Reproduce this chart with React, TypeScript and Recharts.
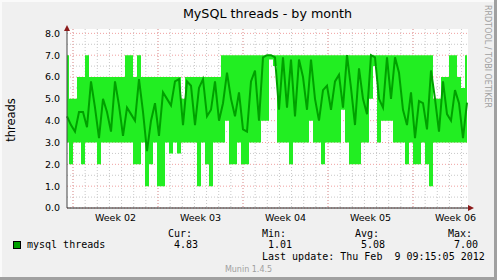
import { ComposedChart, Area, Line, XAxis, YAxis, CartesianGrid } from "recharts";

// Munin "MySQL threads - by month": faixa min/max (verde claro) e media (verde escuro).
// Uma amostra a cada ~8h.
const AVG = [
  4.2, 3.8, 3.5, 4.4, 4.4, 3.7, 5.8, 4.6, 3.2, 5.0,
  4.4, 3.5, 5.8, 4.7, 3.3, 4.6, 4.3, 4.0, 5.9, 4.4,
  2.6, 4.0, 4.8, 3.3, 5.3, 5.0, 4.7, 5.8, 5.9, 3.8,
  5.8, 5.6, 3.8, 5.5, 5.9, 4.2, 4.5, 5.8, 4.0, 4.8,
  6.2, 5.0, 4.2, 5.3, 3.6, 3.5, 5.8, 6.3, 4.0, 6.9,
  7.0, 7.0, 6.9, 4.5, 6.9, 4.6, 6.8, 4.2, 6.8, 6.0,
  4.5, 6.8, 5.0, 4.0, 5.4, 5.6, 4.5, 5.8, 6.1, 4.6,
  7.0, 5.5, 3.8, 6.4, 5.0, 4.3, 7.0, 6.9, 5.0, 4.6,
  6.9, 5.0, 6.9, 6.2, 4.5, 3.8, 5.3, 3.2, 4.9, 4.8,
  3.6, 6.3, 5.0, 3.5, 5.8, 4.3, 4.0, 5.4, 4.8, 3.2,
  4.83,
];
const MIN = [
  3, 2, 3, 3, 2, 3, 3, 3, 2, 3,
  3, 3, 3, 3, 3, 3, 3, 2, 2, 3,
  1, 2, 3, 1, 1, 3, 2.5, 3, 2.5, 3,
  3, 3, 3, 1, 3, 2, 1, 3, 3, 3,
  4, 2, 2, 3, 2, 2, 3, 3, 3, 4,
  4, 6.8, 6.5, 3, 3, 3, 2, 3, 3, 3,
  3, 4, 3, 3, 2, 3, 3, 3, 3, 4.5,
  3, 2, 2, 2, 3, 3, 5, 6.5, 3, 4,
  4, 4, 3, 3, 3, 2, 3, 2, 2, 3,
  2, 1, 3, 3, 3, 3, 3, 3, 3, 3,
  3,
];
const MAX = [
  7, 5, 5, 6, 6, 7, 6, 6, 6, 6,
  6, 6, 6, 6, 6, 7, 7, 6, 7, 6,
  6, 6, 6, 6, 6, 6, 6, 6, 6, 5,
  6, 6, 6, 6, 6, 6, 6, 6, 6, 7,
  7, 7, 7, 7, 7, 7, 7, 7, 7, 7,
  7, 7, 7, 7, 7, 7, 7, 7, 7, 7,
  7, 7, 7, 7, 7, 7, 7, 7, 7, 7,
  7, 7, 7, 7, 7, 7, 7, 7, 7, 7,
  7, 7, 7, 7, 7, 7, 7, 7, 7, 7,
  7, 7, 5, 5, 6, 6, 7, 7, 6, 5.5,
  7,
];

const WEEK_LABELS = ["Week 02", "Week 03", "Week 04", "Week 05", "Week 06"];
const WEEK_STARTS = [1.5, 22.75, 44, 65.25, 86.5];
const WEEK_CENTERS = [12.125, 33.375, 54.625, 75.875, 97.125];
const DAY_TICKS = Array.from({ length: 33 }, (_, k) => 1.5 + (k * 21.25) / 7);
const Y_TICKS = [0, 1, 2, 3, 4, 5, 6, 7, 8];
const HALF_TICKS = [0.5, 1.5, 2.5, 3.5, 4.5, 5.5, 6.5, 7.5];
const X_DOMAIN: [number, number] = [0, 100.25];
const Y_DOMAIN: [number, number] = [0, 8.2];

const STAT_LABELS = ["Cur:", "Min:", "Avg:", "Max:"];
const STAT_VALUES = ["4.83", "1.01", "5.08", "7.00"];

const SANS = "DejaVu Sans";
const MONO = "DejaVu Sans Mono";

const rows = AVG.map((a, i) => ({ t: i, avg: a, band: [MIN[i], MAX[i]] }));

function YTick({ x, y, payload }: any) {
  return (
    <text x={x} y={y} dy={3.4} textAnchor="end" fontSize={9.5} fontFamily={SANS} fill="#000">
      {Number(payload.value).toFixed(1)}
    </text>
  );
}

function XTick({ x, y, payload }: any) {
  const i = WEEK_CENTERS.indexOf(payload.value);
  return (
    <text x={x} y={y} dy={13} textAnchor="middle" fontSize={9.5} fontFamily={SANS} fill="#000">
      {WEEK_LABELS[i] ?? ""}
    </text>
  );
}

export default function App() {
  const statX = [168, 262, 355, 448];
  return (
    <div style={{ position: "relative", width: 497, height: 280, background: "#f0f0f0" }}>
      <style>{"body{margin:0}"}</style>
      <ComposedChart
        width={497}
        height={280}
        data={rows}
        margin={{ top: 29, right: 29, bottom: 52, left: 7 }}
      >
        <XAxis
          type="number"
          dataKey="t"
          domain={X_DOMAIN}
          ticks={WEEK_CENTERS}
          interval={0}
          height={20}
          tickSize={0}
          tickMargin={0}
          tickLine={false}
          axisLine={{ stroke: "#222" }}
          tick={<XTick />}
        />
        <YAxis
          type="number"
          domain={Y_DOMAIN}
          ticks={Y_TICKS}
          interval={0}
          width={60}
          tickSize={0}
          tickMargin={7}
          tickLine={false}
          axisLine={{ stroke: "#444" }}
          tick={<YTick />}
        />
        {/* grade menor: dias e meias unidades */}
        <CartesianGrid
          verticalValues={DAY_TICKS}
          horizontalValues={HALF_TICKS}
          stroke="#c8c8c8"
          strokeDasharray="1 2"
          fill="#ffffff"
          fillOpacity={1}
        />
        {/* grade maior: inicio de semana e unidades inteiras */}
        <CartesianGrid
          verticalValues={WEEK_STARTS}
          horizontalValues={Y_TICKS}
          stroke="#f0a0a0"
          strokeDasharray="1 2"
        />
        <Area
          dataKey="band"
          type="step"
          stroke="none"
          fill="#22ee22"
          fillOpacity={1}
          isAnimationActive={false}
        />
        <Line
          dataKey="avg"
          type="linear"
          stroke="#00a000"
          strokeWidth={2}
          dot={false}
          isAnimationActive={false}
        />
      </ComposedChart>

      <svg
        width={497}
        height={280}
        style={{ position: "absolute", left: 0, top: 0, pointerEvents: "none" }}
      >
        {/* moldura */}
        <rect x={0} y={0} width={497} height={2} fill="#fafafa" />
        <rect x={0} y={0} width={2} height={280} fill="#fafafa" />
        <rect x={494} y={0} width={3} height={280} fill="#a0a0a0" />
        <rect x={0} y={277} width={497} height={3} fill="#a0a0a0" />

        {/* setas dos eixos */}
        <polygon points="64,31 70,31 67,25" fill="#8b1a1a" />
        <polygon points="468,205 468,211 474,208" fill="#8b1a1a" />

        <text x={267.5} y={17.5} textAnchor="middle" fontSize={12.7} fontFamily={SANS} fill="#000">
          MySQL threads - by month
        </text>
        <text
          x={15}
          y={120}
          transform="rotate(-90 15 120)"
          textAnchor="middle"
          fontSize={11.5}
          fontFamily={SANS}
          fill="#000"
        >
          threads
        </text>
        <text
          x={485}
          y={5}
          transform="rotate(90 485 5)"
          fontSize={8}
          fontFamily={SANS}
          fill="#a0a0a0"
        >
          RRDTOOL / TOBI OETIKER
        </text>

        {/* legenda */}
        <rect x={13.5} y={241.5} width={7} height={7} fill="#00a000" stroke="#000" strokeWidth={1} />
        <text x={27} y={248} fontSize={10} fontFamily={MONO} fill="#000">
          mysql threads
        </text>
        {STAT_LABELS.map((l, i) => (
          <text key={l} x={statX[i]} y={236.5} fontSize={10} fontFamily={MONO} fill="#000">
            {l}
          </text>
        ))}
        {STAT_VALUES.map((v, i) => (
          <text key={i} x={statX[i] + 6} y={248} fontSize={10} fontFamily={MONO} fill="#000">
            {v}
          </text>
        ))}
        <text
          x={262}
          y={260}
          fontSize={10}
          fontFamily={MONO}
          fill="#000"
          style={{ whiteSpace: "pre" }}
        >
          {"Last update: Thu Feb  9 09:15:05 2012"}
        </text>
        <text x={248.5} y={271.5} textAnchor="middle" fontSize={8} fontFamily={SANS} fill="#a0a0a0">
          Munin 1.4.5
        </text>
      </svg>
    </div>
  );
}
